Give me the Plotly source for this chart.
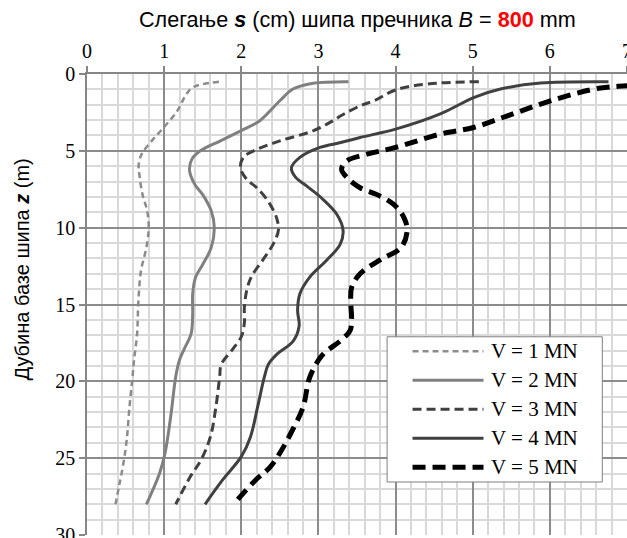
import plotly.graph_objects as go

# ---- data (settlement s in cm vs pile base depth z in m) ----
series_names = ["V = 1 MN", "V = 2 MN", "V = 3 MN", "V = 4 MN", "V = 5 MN"]

z_v1 = [0.5, 0.85, 1.3, 2.4, 3.5, 4.35, 5.2, 5.9, 6.6, 7.85, 8.9, 10.0, 11.3, 12.8, 14.9, 16.9, 18.6, 19.7, 21.7, 23.8, 25.4, 26.7, 28.0]
s_v1 = [1.71, 1.38, 1.29, 1.17, 0.99, 0.84, 0.71, 0.67, 0.68, 0.72, 0.78, 0.80, 0.77, 0.70, 0.665, 0.65, 0.61, 0.59, 0.55, 0.515, 0.47, 0.42, 0.37]

z_v2 = [0.5, 0.6, 0.98, 1.74, 3.04, 3.6, 4.35, 5.0, 5.54, 6.3, 7.2, 7.85, 8.9, 10.0, 11.3, 12.4, 13.2, 14.3, 15.6, 16.9, 17.9, 18.6, 19.7, 21.7, 23.2, 24.7, 26.0, 28.0]
s_v2 = [3.39, 2.93, 2.67, 2.50, 2.24, 2.03, 1.73, 1.47, 1.36, 1.33, 1.40, 1.50, 1.61, 1.65, 1.61, 1.50, 1.41, 1.37, 1.37, 1.35, 1.26, 1.20, 1.15, 1.10, 1.06, 1.01, 0.94, 0.77]

z_v3 = [0.5, 0.65, 1.04, 1.74, 2.07, 2.72, 3.04, 3.7, 4.35, 5.0, 5.4, 6.1, 6.85, 7.4, 8.3, 9.4, 10.2, 11.1, 12.1, 13.2, 14.1, 15.2, 16.2, 17.1, 17.9, 18.9, 19.7, 21.7, 23.6, 25.1, 26.2, 28.0]
s_v3 = [5.08, 4.41, 4.00, 3.72, 3.54, 3.29, 3.19, 2.93, 2.50, 2.16, 2.03, 1.99, 2.07, 2.20, 2.35, 2.46, 2.48, 2.41, 2.28, 2.13, 2.07, 2.04, 2.04, 2.00, 1.89, 1.74, 1.72, 1.67, 1.60, 1.48, 1.34, 1.15]

z_v4 = [0.5, 0.59, 0.98, 1.52, 2.6, 3.59, 4.13, 4.46, 4.78, 5.43, 6.1, 6.7, 7.3, 8.07, 9.14, 10.2, 11.1, 12.1, 13.2, 14.3, 15.4, 16.4, 17.4, 18.2, 18.9, 19.7, 21.7, 23.6, 24.9, 26.4, 28.0]
s_v4 = [6.76, 5.88, 5.36, 5.02, 4.58, 4.00, 3.54, 3.29, 3.02, 2.76, 2.65, 2.70, 2.85, 3.04, 3.24, 3.32, 3.28, 3.11, 2.89, 2.76, 2.73, 2.75, 2.67, 2.47, 2.35, 2.30, 2.21, 2.12, 2.00, 1.76, 1.53]

z_v5 = [0.55, 0.76, 0.91, 1.3, 1.96, 2.72, 3.48, 3.91, 4.78, 5.22, 5.65, 6.2, 6.74, 7.4, 7.85, 8.5, 9.36, 10.2, 11.3, 12.1, 13.0, 13.9, 14.9, 16.0, 16.7, 17.3, 18.3, 19.7, 21.7, 23.2, 24.5, 25.6, 26.4, 28.0]
s_v5 = [7.55, 7.00, 6.66, 6.31, 5.88, 5.45, 5.01, 4.58, 4.00, 3.63, 3.37, 3.30, 3.37, 3.54, 3.76, 3.98, 4.11, 4.15, 4.07, 3.80, 3.54, 3.43, 3.42, 3.43, 3.41, 3.30, 3.05, 2.89, 2.80, 2.66, 2.52, 2.37, 2.19, 1.90]

x_ticks = [0, 1, 2, 3, 4, 5, 6, 7]
y_ticks = [0, 5, 10, 15, 20, 25, 30]

# ---- styles ----
colors = ["#8c8c8c", "#808080", "#404040", "#404040", "#000000"]
widths = [2.5, 3, 3, 3, 5]
dashes = ["6px,4px", "solid", "9px,5px", "solid", "13px,7px"]

zs = [z_v1, z_v2, z_v3, z_v4, z_v5]
ss = [s_v1, s_v2, s_v3, s_v4, s_v5]

fig = go.Figure()
for name, z, s, c, w, d in zip(series_names, zs, ss, colors, widths, dashes):
    fig.add_trace(go.Scatter(
        x=s, y=z, mode="lines", name=name, showlegend=False,
        line=dict(color=c, width=w, dash=d, shape="spline", smoothing=1.0),
    ))

serif = "Liberation Serif, Times New Roman, Times, serif"
sans = "Liberation Sans, Arial, sans-serif"

fig.update_layout(
    width=627, height=538,
    margin=dict(l=87, r=0, t=74, b=3, autoexpand=False),
    paper_bgcolor="white", plot_bgcolor="white",
    font=dict(family=serif, size=20, color="black"),
    xaxis=dict(
        side="top", range=[0, 7], tickvals=x_ticks, ticktext=[str(v) for v in x_ticks],
        ticks="outside", ticklen=6, tickcolor="#868686", tickwidth=1.5,
        showgrid=True, gridcolor="#8c8c8c", gridwidth=1.5,
        minor=dict(dtick=0.2, showgrid=True, gridcolor="#d9d9d9", gridwidth=1.5, ticks=""),
        showline=True, linecolor="#868686", linewidth=1.5,
        zeroline=False, fixedrange=True, ticklabeloverflow="allow", automargin=False,
        tickfont=dict(family=serif, size=20, color="black"),
    ),
    yaxis=dict(
        range=[30, 0], tickvals=y_ticks, ticktext=[str(v) for v in y_ticks],
        ticks="outside", ticklen=6, tickcolor="#868686", tickwidth=1.5,
        showgrid=True, gridcolor="#8c8c8c", gridwidth=1.5,
        minor=dict(dtick=1, showgrid=True, gridcolor="#d9d9d9", gridwidth=1.5, ticks=""),
        showline=True, linecolor="#868686", linewidth=1.5,
        zeroline=False, fixedrange=True, ticklabeloverflow="allow", automargin=False,
        tickfont=dict(family=serif, size=20, color="black"),
    ),
)

# title
fig.add_annotation(
    xref="paper", yref="paper", x=0.5, y=1, yshift=55, yanchor="middle", showarrow=False,
    text="Слегање <b><i>s</i></b> (cm) шипа пречника <i>B</i> = <b><span style='color:#ff0000'>800</span></b> mm",
    font=dict(family=sans, size=21.6, color="black"),
)
# y axis title
fig.add_annotation(
    xref="paper", yref="paper", x=-0.121, y=0.575, xanchor="center", yanchor="middle",
    showarrow=False, textangle=-90,
    text="Дубина базе шипа <b><i>z</i></b> (m)",
    font=dict(family=sans, size=20, color="black"),
)

# custom legend (box, sample lines, labels) in data coordinates
lg_x0, lg_x1 = 3.89, 6.68
lg_y0, lg_y1 = 17.1, 26.55
fig.add_shape(type="rect", xref="x", yref="y", x0=lg_x0, x1=lg_x1, y0=lg_y0, y1=lg_y1,
              fillcolor="white", line=dict(color="#7f7f7f", width=1), layer="above")
row0, row_step = 18.05, 1.885
for i, (name, c, w, d) in enumerate(zip(series_names, colors, widths, dashes)):
    yy = row0 + i * row_step
    fig.add_shape(type="line", xref="x", yref="y", x0=4.22, x1=5.14, y0=yy, y1=yy,
                  line=dict(color=c, width=w, dash=d), layer="above")
    fig.add_annotation(xref="x", yref="y", x=5.21, y=yy, xanchor="left", yanchor="middle",
                       showarrow=False, text=name, font=dict(family=serif, size=21, color="black"))

fig.write_html("out.html")
